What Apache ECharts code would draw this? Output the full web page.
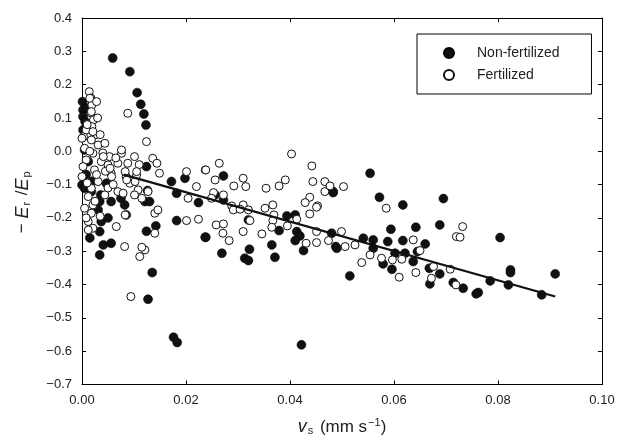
<!DOCTYPE html>
<html>
<head>
<meta charset="utf-8">
<script src="https://cdn.jsdelivr.net/npm/echarts@6/dist/echarts.min.js"></script>
<style>html,body{margin:0;padding:0;background:#fff}#c{width:620px;height:444px}</style>
</head>
<body>
<div id="c"></div>
<script>
// Non-fertilized (filled circles)
const nonFertX = [0.0059,0.0092,0.0106,0.0113,0.0119,0.0123,
0.0001,0.0002,0.0002,0.0006,0.0002,0.0005,0.0012,0.0000,0.0005,0.0018,0.0036,0.0047,0.0034,0.0031,0.0037,0.0034,0.0041,0.0056,0.0034,0.0056,0.0075,0.0082,0.0085,0.0121,0.0130,0.0124,0.0124,0.0142,
0.0010,0.0008,0.0020,0.0015,0.0050,
0.0172,0.0198,0.0182,0.0224,0.0126,0.0182,0.0237,0.0135,0.0127,0.0176,0.0183,
0.0272,0.0256,0.0272,0.0483,0.0394,0.0410,0.0320,0.0238,0.0379,0.0413,0.0419,0.0410,0.0488,0.0426,0.0365,0.0322,0.0269,0.0313,0.0320,0.0371,0.0422,
0.0554,0.0483,0.0572,0.0617,0.0695,0.0688,0.0642,0.0594,0.0480,0.0541,0.0560,0.0588,0.0617,0.0660,0.0645,0.0490,0.0560,0.0602,0.0621,0.0637,0.0579,0.0596,0.0668,0.0688,0.0669,0.0515,0.0714,0.0733,0.0804,0.0824,0.0824,0.0910,0.0785,0.0820,0.0762,0.0758,0.0884];
const nonFertY = [0.280,0.239,0.176,0.141,0.112,0.079,
0.149,0.124,0.104,0.089,0.064,0.004,-0.031,-0.101,-0.111,-0.121,-0.131,-0.096,-0.151,-0.176,-0.211,-0.241,-0.281,-0.276,-0.311,-0.151,-0.141,-0.161,-0.191,-0.151,-0.151,-0.046,-0.240,-0.224,
0.130,-0.070,-0.090,-0.260,-0.200,
-0.091,-0.081,-0.126,-0.154,-0.118,-0.208,-0.258,-0.364,-0.444,-0.558,-0.574,
-0.074,-0.131,-0.146,-0.124,-0.194,-0.191,-0.206,-0.258,-0.238,-0.241,-0.254,-0.268,-0.286,-0.298,-0.281,-0.294,-0.306,-0.321,-0.328,-0.318,-0.581,
-0.066,-0.121,-0.138,-0.161,-0.142,-0.221,-0.228,-0.234,-0.246,-0.261,-0.266,-0.271,-0.268,-0.278,-0.301,-0.291,-0.291,-0.306,-0.306,-0.331,-0.338,-0.354,-0.351,-0.368,-0.398,-0.374,-0.394,-0.411,-0.259,-0.356,-0.364,-0.368,-0.389,-0.401,-0.424,-0.428,-0.431];

// Fertilized (open circles)
const fertX = [0.0014,0.0017,0.0019,0.0017,0.0022,0.0019,0.0003,0.0025,0.0015,0.0018,0.0008,0.0021,0.0000,0.0018,0.0031,0.0044,0.0005,0.0021,0.0053,0.0008,0.0037,0.0002,0.0024,0.0050,0.0069,0.0088,0.0101,0.0076,0.0056,0.0085,0.0105,0.0136,0.0000,0.0031,0.0018,0.0044,0.0012,0.0069,0.0092,0.0108,0.0101,0.0127,0.0021,0.0005,0.0018,0.0140,0.0012,0.0021,0.0012,0.0066,0.0082,0.0121,0.0111,0.0140,0.0124,0.0088,0.0028,
0.0030,0.0010,0.0035,0.0015,0.0040,0.0028,0.0045,0.0010,0.0050,0.0025,0.0035,0.0008,0.0060,0.0065,0.0110,
0.0076,0.0144,0.0149,0.0041,0.0054,0.0083,0.0105,0.0057,0.0086,0.0102,0.0201,0.0237,0.0220,0.0204,0.0146,0.0115,0.0083,0.0079,0.0115,0.0201,0.0224,0.0094,
0.0403,0.0442,0.0264,0.0238,0.0256,0.0310,0.0292,0.0315,0.0354,0.0379,0.0391,0.0444,0.0467,0.0467,0.0438,0.0429,0.0453,0.0253,0.0249,0.0272,0.0288,0.0310,0.0352,0.0367,0.0291,0.0320,0.0304,0.0369,0.0413,0.0323,0.0367,0.0258,0.0272,0.0271,0.0283,0.0310,0.0346,0.0365,0.0395,0.0431,0.0451,0.0451,0.0474,0.0438,0.0451,
0.0503,0.0477,0.0585,0.0732,0.0720,0.0499,0.0637,0.0650,0.0525,0.0506,0.0554,0.0576,0.0597,0.0615,0.0538,0.0676,0.0708,0.0642,0.0672,0.0610,0.0719,0.0727];
const fertY = [0.179,0.160,0.139,0.115,0.094,0.074,0.044,0.049,0.159,0.119,0.064,0.059,0.039,0.034,0.019,0.024,0.009,-0.006,-0.016,-0.026,-0.031,-0.046,-0.056,-0.041,-0.036,-0.036,-0.016,-0.006,-0.066,-0.076,-0.071,-0.021,-0.076,-0.091,-0.111,-0.131,-0.136,-0.121,-0.096,-0.116,-0.131,-0.121,-0.161,-0.171,-0.186,-0.186,-0.211,-0.231,-0.236,-0.226,-0.286,-0.296,-0.316,-0.246,0.029,0.114,0.149,
0.100,0.080,0.050,0.000,-0.005,-0.070,-0.060,-0.095,-0.110,-0.150,-0.195,-0.200,-0.100,-0.020,-0.040,
0.004,-0.036,-0.066,-0.016,-0.051,-0.061,-0.061,-0.076,-0.086,-0.091,-0.061,-0.056,-0.106,-0.141,-0.176,-0.141,-0.191,-0.126,-0.288,-0.208,-0.204,-0.436,
-0.008,-0.044,-0.036,-0.056,-0.086,-0.081,-0.104,-0.106,-0.111,-0.104,-0.086,-0.091,-0.091,-0.121,-0.138,-0.154,-0.164,-0.124,-0.141,-0.131,-0.164,-0.161,-0.171,-0.161,-0.176,-0.176,-0.174,-0.191,-0.204,-0.208,-0.208,-0.221,-0.218,-0.246,-0.268,-0.241,-0.248,-0.228,-0.224,-0.276,-0.241,-0.274,-0.268,-0.188,-0.168,
-0.106,-0.104,-0.171,-0.226,-0.256,-0.241,-0.266,-0.298,-0.281,-0.286,-0.311,-0.321,-0.326,-0.324,-0.334,-0.346,-0.354,-0.364,-0.381,-0.378,-0.401,-0.258];

// Regression line end points
const fitX = [0.008, 0.091];
const fitY = [-0.070, -0.436];

const xTicks = [0, 0.02, 0.04, 0.06, 0.08, 0.10];
const yTicks = [-0.7,-0.6,-0.5,-0.4,-0.3,-0.2,-0.1,0.0,0.1,0.2,0.3,0.4];

const zip = (a, b) => a.map((v, i) => [v, b[i]]);
const FONT = 'Liberation Sans, Arial, Helvetica, sans-serif';
const fmtY = v => (v < -1e-9 ? '\u2212' : '') + Math.abs(v).toFixed(1);

const chart = echarts.init(document.getElementById('c'), null, {renderer: 'canvas'});
const axisCommon = {
  axisLine: {show: true, onZero: false, lineStyle: {color: '#000', width: 1}},
  axisTick: {show: true, inside: true, length: 4, lineStyle: {color: '#000'}},
  splitLine: {show: false}
};
chart.setOption({
  animation: false,
  backgroundColor: '#fff',
  grid: {left: 82, right: 18, top: 18, bottom: 59.5},
  legend: {
    left: 417, top: 34,
    orient: 'vertical',
    data: ['Non-fertilized', 'Fertilized'],
    borderColor: '#000', borderWidth: 1, borderRadius: 0,
    padding: [12, 32, 12, 26],
    itemGap: 8,
    itemWidth: 10, itemHeight: 10,
    textStyle: {fontFamily: FONT, fontSize: 14, color: '#222', padding: [0, 0, 0, 18]}
  },
  xAxis: [{
    type: 'value', min: 0, max: 0.1, interval: 0.02,
    position: 'bottom',
    ...axisCommon,
    axisLabel: {fontFamily: FONT, fontSize: 13, color: '#222', margin: 9,
      formatter: v => v.toFixed(2)},
    name: '{it|v}{sub|s} (mm s{sup|\u22121})',
    nameLocation: 'middle', nameGap: 33,
    nameTextStyle: {fontFamily: FONT, fontSize: 17, color: '#222',
      rich: {
        it: {fontFamily: FONT, fontStyle: 'italic', fontSize: 18, color: '#222'},
        sub: {fontFamily: FONT, fontSize: 11, color: '#222', verticalAlign: 'bottom', padding: [8, 2, 0, 1]},
        sup: {fontFamily: FONT, fontSize: 11, color: '#222', verticalAlign: 'top', padding: [0, 0, 8, 1]}
      }}
  }, {
    type: 'value', min: 0, max: 0.1, interval: 0.02,
    position: 'top', ...axisCommon, axisLabel: {show: false}
  }],
  yAxis: [{
    type: 'value', min: -0.7, max: 0.4, interval: 0.1,
    position: 'left',
    ...axisCommon,
    axisLabel: {fontFamily: FONT, fontSize: 13, color: '#222', margin: 10, formatter: fmtY},
    name: '\u2212 {it|E}{sub|r} /{it|E}{sub|p}',
    nameLocation: 'middle', nameRotate: 90, nameGap: 50,
    nameTextStyle: {fontFamily: FONT, fontSize: 17, color: '#222',
      rich: {
        it: {fontFamily: FONT, fontStyle: 'italic', fontSize: 18, color: '#222'},
        sub: {fontFamily: FONT, fontSize: 11, color: '#222', verticalAlign: 'bottom', padding: [8, 2, 0, 1]}
      }}
  }, {
    type: 'value', min: -0.7, max: 0.4, interval: 0.1,
    position: 'right', ...axisCommon, axisLabel: {show: false}
  }],
  series: [{
    name: 'Non-fertilized', type: 'scatter',
    data: zip(nonFertX, nonFertY),
    symbol: 'circle', symbolSize: 9,
    itemStyle: {color: '#111', borderColor: '#000', borderWidth: 0.5, opacity: 1},
    z: 2
  }, {
    name: 'Fertilized', type: 'scatter',
    data: zip(fertX, fertY),
    symbol: 'circle', symbolSize: 8,
    itemStyle: {color: '#fff', borderColor: '#111', borderWidth: 1, opacity: 1},
    z: 3
  }, {
    name: 'fit', type: 'line',
    data: zip(fitX, fitY),
    symbol: 'none',
    lineStyle: {color: '#111', width: 2.2},
    z: 4
  }]
});
</script>
</body>
</html>
